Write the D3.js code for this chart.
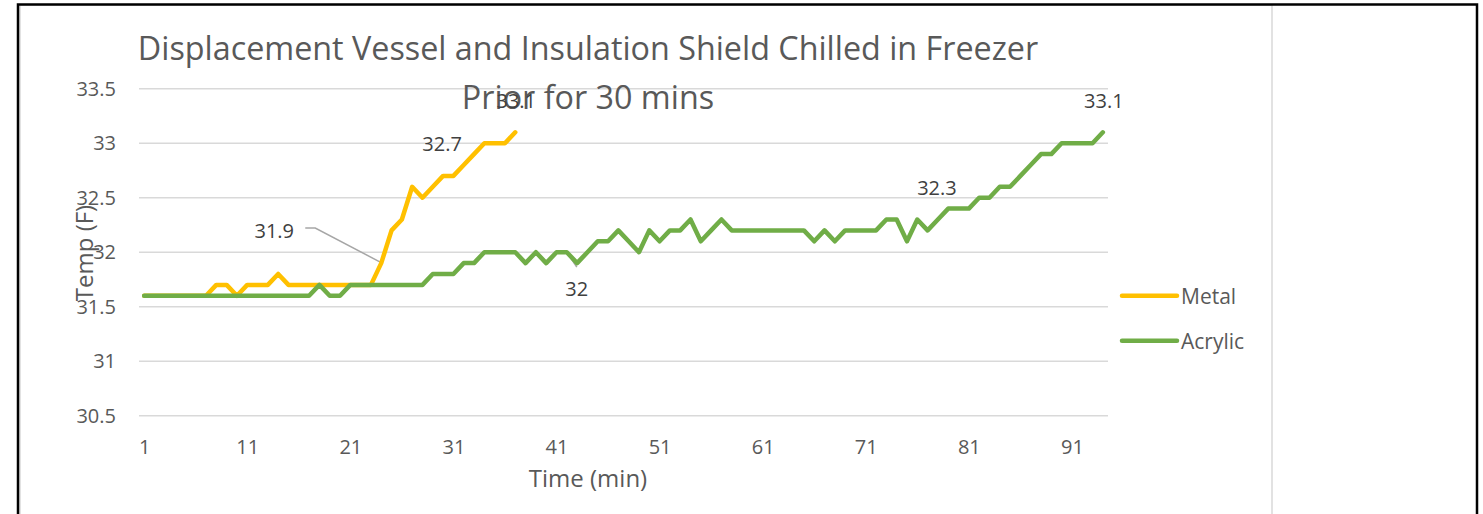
<!DOCTYPE html>
<html>
<head>
<meta charset="utf-8">
<title>Displacement Vessel and Insulation Shield Chilled in Freezer</title>
<script src="https://cdn.jsdelivr.net/npm/d3@7"></script>
<style>
    html, body { margin: 0; padding: 0; background: #fff; }
    svg { display: block; font-family: 'Open Sans', sans-serif; }
</style>
</head>
<body>
<svg id="chart" width="1483" height="514"></svg>
<script>
(function () {
    'use strict';

    // minute index 1..94
    const minutes = d3.range(1, 95);

    const metal = [
        31.6, 31.6, 31.6, 31.6, 31.6, 31.6, 31.6, 31.7, 31.7, 31.6,
        31.7, 31.7, 31.7, 31.8, 31.7, 31.7, 31.7, 31.7, 31.7, 31.7,
        31.7, 31.7, 31.7, 31.9, 32.2, 32.3, 32.6, 32.5, 32.6, 32.7,
        32.7, 32.8, 32.9, 33.0, 33.0, 33.0, 33.1
    ];

    const acrylic = [
        31.6, 31.6, 31.6, 31.6, 31.6, 31.6, 31.6, 31.6, 31.6, 31.6,
        31.6, 31.6, 31.6, 31.6, 31.6, 31.6, 31.6, 31.7, 31.6, 31.6,
        31.7, 31.7, 31.7, 31.7, 31.7, 31.7, 31.7, 31.7, 31.8, 31.8,
        31.8, 31.9, 31.9, 32.0, 32.0, 32.0, 32.0, 31.9, 32.0, 31.9,
        32.0, 32.0, 31.9, 32.0, 32.1, 32.1, 32.2, 32.1, 32.0, 32.2,
        32.1, 32.2, 32.2, 32.3, 32.1, 32.2, 32.3, 32.2, 32.2, 32.2,
        32.2, 32.2, 32.2, 32.2, 32.2, 32.1, 32.2, 32.1, 32.2, 32.2,
        32.2, 32.2, 32.3, 32.3, 32.1, 32.3, 32.2, 32.3, 32.4, 32.4,
        32.4, 32.5, 32.5, 32.6, 32.6, 32.7, 32.8, 32.9, 32.9, 33.0,
        33.0, 33.0, 33.0, 33.1
    ];

    const xTickLabels = [1, 11, 21, 31, 41, 51, 61, 71, 81, 91];
    const yTickLabels = [30.5, 31, 31.5, 32, 32.5, 33, 33.5];

    const series = [
        { name: 'Metal', values: metal, color: '#ffc000' },
        { name: 'Acrylic', values: acrylic, color: '#70ad47' },
    ];

    // which points carry a data label (minute), plus where the label was dragged to
    const labelledPoints = [
        { series: 'Metal', minute: 24 },
        { series: 'Metal', minute: 30 },
        { series: 'Metal', minute: 37 },
        { series: 'Acrylic', minute: 42 },
        { series: 'Acrylic', minute: 78 },
        { series: 'Acrylic', minute: 94 },
    ];
    const labelOffsets = [
        { dx: -107, dy: -33, leader: 'side' },
        { dx: -1, dy: -32 },
        { dx: 1, dy: -32 },
        { dx: 10, dy: 36, leader: 'top' },
        { dx: -1, dy: -32 },
        { dx: 1, dy: -32 },
    ];

    const plot = { left: 139, right: 1108, top: 88.7, bottom: 415.7 };
    const textColor = '#595959';

    const svg = d3.select('#chart');

    // outer frame
    svg.append('rect')
        .attr('x', 20).attr('y', 5)
        .attr('width', 1252).attr('height', 520)
        .attr('fill', '#fff')
        .attr('stroke', '#d9d9d9')
        .attr('stroke-width', 1.5);
    svg.append('path')
        .attr('d', 'M18,514 V4.5 H1477 V514')
        .attr('fill', 'none')
        .attr('stroke', '#000')
        .attr('stroke-width', 2.5);

    const x = d3.scalePoint()
        .domain(minutes)
        .range([plot.left, plot.right])
        .padding(0.5);

    const y = d3.scaleLinear()
        .domain([30.5, 33.5])
        .range([plot.bottom, plot.top]);

    // gridlines
    svg.append('g')
        .selectAll('line')
        .data(yTickLabels)
        .join('line')
        .attr('x1', plot.left)
        .attr('x2', plot.right)
        .attr('y1', (d) => y(d))
        .attr('y2', (d) => y(d))
        .attr('stroke', '#d9d9d9')
        .attr('stroke-width', 1.5);

    const yAxis = svg.append('g')
        .attr('transform', `translate(${plot.left},0)`)
        .call(d3.axisLeft(y).tickValues(yTickLabels).tickFormat(d3.format('')).tickSize(0).tickPadding(23));
    yAxis.select('.domain').remove();

    const xAxis = svg.append('g')
        .attr('transform', `translate(0,${plot.bottom})`)
        .call(d3.axisBottom(x).tickValues(xTickLabels).tickSize(0).tickPadding(24));
    xAxis.select('.domain').remove();

    [xAxis, yAxis].forEach((a) => {
        a.attr('font-family', null).attr('font-size', null);
        a.selectAll('text')
            .attr('font-size', 20)
            .attr('fill', textColor);
    });

    // titles
    const title = svg.append('text')
        .attr('text-anchor', 'middle')
        .attr('font-size', 32.3)
        .attr('fill', textColor);
    title.append('tspan').attr('x', 588).attr('y', 59.5).text('Displacement Vessel and Insulation Shield Chilled in Freezer');
    title.append('tspan').attr('x', 588).attr('y', 108.5).text('Prior for 30 mins');

    svg.append('text')
        .attr('x', 588)
        .attr('y', 477)
        .attr('text-anchor', 'middle')
        .attr('dominant-baseline', 'central')
        .attr('font-size', 24)
        .attr('fill', textColor)
        .text('Time (min)');

    svg.append('text')
        .attr('transform', 'translate(83,253) rotate(-90)')
        .attr('text-anchor', 'middle')
        .attr('dominant-baseline', 'central')
        .attr('font-size', 24)
        .attr('fill', textColor)
        .text('Temp (F)');

    // leader lines go under the series
    const leaderLayer = svg.append('g');

    const line = d3.line()
        .x((d, i) => x(minutes[i]))
        .y((d) => y(d));

    series.forEach((s) => {
        svg.append('path')
            .datum(s.values)
            .attr('d', line)
            .attr('fill', 'none')
            .attr('stroke', s.color)
            .attr('stroke-width', 4.5)
            .attr('stroke-linejoin', 'round')
            .attr('stroke-linecap', 'round');
    });

    labelledPoints.forEach((p, i) => {
        const s = series.find((d) => d.name === p.series);
        const v = s.values[p.minute - 1];
        const px = x(p.minute);
        const py = y(v);
        const off = labelOffsets[i];
        const lx = px + off.dx;
        const ly = py + off.dy;

        svg.append('text')
            .attr('x', lx)
            .attr('y', ly)
            .attr('text-anchor', 'middle')
            .attr('dominant-baseline', 'central')
            .attr('font-size', 20)
            .attr('fill', '#404040')
            .text(d3.format('')(v));

        if (off.leader === 'side') {
            leaderLayer.append('path')
                .attr('d', `M${lx + 31},${ly - 2} h10 L${px - 1},${py - 1}`)
                .attr('fill', 'none')
                .attr('stroke', '#a6a6a6')
                .attr('stroke-width', 1.5);
        } else if (off.leader === 'top') {
            leaderLayer.append('path')
                .attr('d', `M${lx},${ly - 21} L${px},${py}`)
                .attr('fill', 'none')
                .attr('stroke', '#a6a6a6')
                .attr('stroke-width', 1.5);
        }
    });

    // legend
    const legend = svg.append('g');
    series.forEach((s, i) => {
        const ly = 295.7 + i * 45;
        legend.append('line')
            .attr('x1', 1122).attr('x2', 1177)
            .attr('y1', ly).attr('y2', ly)
            .attr('stroke', s.color)
            .attr('stroke-width', 4.5)
            .attr('stroke-linecap', 'round');
        legend.append('text')
            .attr('x', 1181)
            .attr('y', ly)
            .attr('dominant-baseline', 'central')
            .attr('font-size', 21)
            .attr('fill', textColor)
            .text(s.name);
    });
})();
</script>
</body>
</html>
